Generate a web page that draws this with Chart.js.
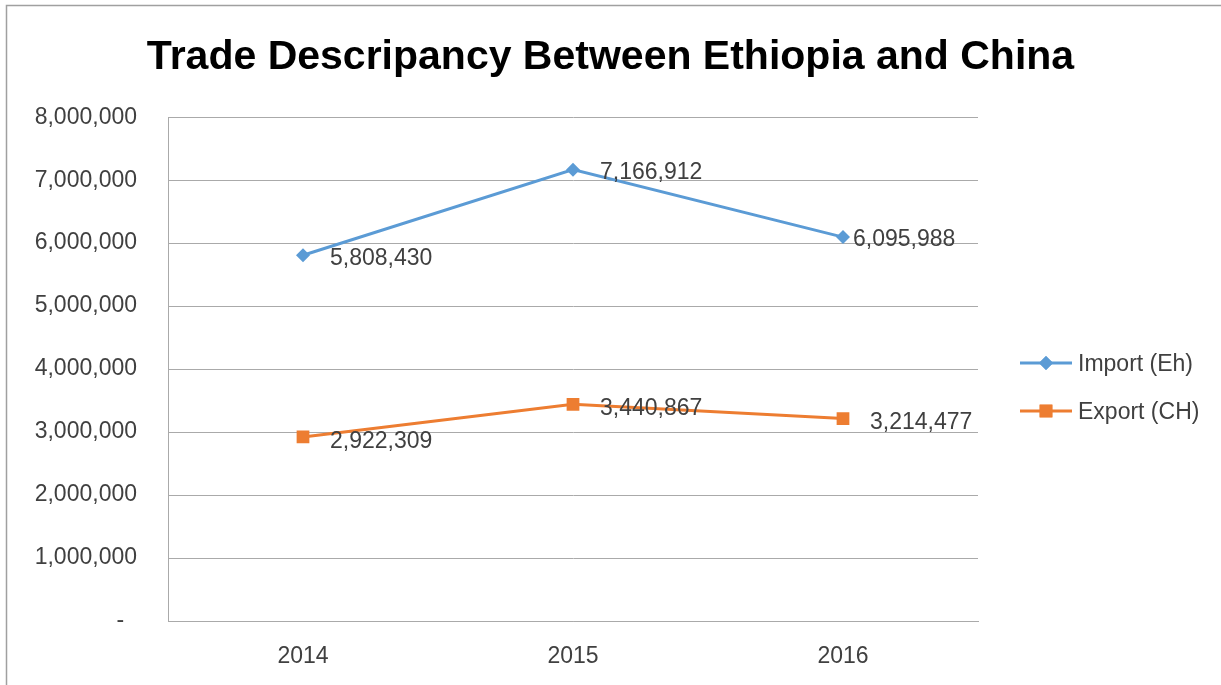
<!DOCTYPE html>
<html>
<head>
<meta charset="utf-8">
<script src="https://cdn.jsdelivr.net/npm/chart.js@4.4.1/dist/chart.umd.min.js"></script>
<style>
  body { margin: 0; background: #fff; }
  #wrap { width: 1221px; height: 685px; }
</style>
</head>
<body>
<div id="wrap"><canvas id="tradeChart" width="1221" height="685"></canvas></div>
<script>
const years = ['2014', '2015', '2016'];
const importEh = [5808430, 7166912, 6095988];
const exportCh = [2922309, 3440867, 3214477];
const seriesNames = ['Import (Eh)', 'Export (CH)'];
const yTicks = [0, 1000000, 2000000, 3000000, 4000000, 5000000, 6000000, 7000000, 8000000];

const FONT = '"Liberation Sans", Arial, sans-serif';
const textColor = '#404040';
const gridColor = '#aaaaaa';
const FS = 23;

function fmt(v) {
    return v.toLocaleString('en-US');
}

// label offsets beside each point (dx, dy), per dataset
const labelShift = [
    [[27, 3], [27, 3], [10, 3]],
    [[27, 5], [27, 4], [27, 4]]
];

const pointLabels = {
    id: 'pointLabels',
    afterDatasetsDraw(chart) {
        const ctx = chart.ctx;
        ctx.save();
        ctx.font = FS + 'px ' + FONT;
        ctx.fillStyle = textColor;
        ctx.textAlign = 'left';
        ctx.textBaseline = 'middle';
        chart.data.datasets.forEach((ds, i) => {
            chart.getDatasetMeta(i).data.forEach((pt, j) => {
                const s = labelShift[i][j];
                ctx.fillText(fmt(ds.data[j]), pt.x + s[0], pt.y + s[1]);
            });
        });
        ctx.restore();
    }
};

const sideLegend = {
    id: 'sideLegend',
    afterDraw(chart) {
        const ctx = chart.ctx;
        ctx.save();
        const x0 = 1020, rowY = [363, 411];
        chart.data.datasets.forEach((ds, i) => {
            const y = rowY[i];
            ctx.strokeStyle = ds.borderColor;
            ctx.lineWidth = 3;
            ctx.beginPath();
            ctx.moveTo(x0, y);
            ctx.lineTo(x0 + 52, y);
            ctx.stroke();
            ctx.fillStyle = ds.borderColor;
            Chart.helpers.drawPoint(ctx, { pointStyle: ds.pointStyle, radius: ds.pointRadius, borderWidth: 0 }, x0 + 26, y);
            ctx.fill();
            ctx.font = FS + 'px ' + FONT;
            ctx.fillStyle = textColor;
            ctx.textAlign = 'left';
            ctx.textBaseline = 'middle';
            ctx.fillText(ds.label, x0 + 58, y + 2);
        });
        ctx.restore();
    }
};

const frame = {
    id: 'frame',
    beforeDraw(chart) {
        const ctx = chart.ctx;
        ctx.save();
        ctx.fillStyle = '#fff';
        ctx.fillRect(0, 0, chart.width, chart.height);
        ctx.strokeStyle = '#a0a0a0';
        ctx.lineWidth = 1.5;
        ctx.beginPath();
        ctx.moveTo(1221, 5.5);
        ctx.lineTo(6.5, 5.5);
        ctx.lineTo(6.5, 685);
        ctx.stroke();
        ctx.restore();
    }
};

const ctx = document.getElementById('tradeChart').getContext('2d');
const chart = new Chart(ctx, {
    type: 'line',
    data: {
        labels: years,
        datasets: [{
            label: seriesNames[0],
            data: importEh,
            borderColor: '#5b9bd5',
            backgroundColor: '#5b9bd5',
            borderWidth: 3,
            pointStyle: 'rectRot',
            pointRadius: 7,
            pointBorderWidth: 0,
            tension: 0
        }, {
            label: seriesNames[1],
            data: exportCh,
            borderColor: '#ed7d31',
            backgroundColor: '#ed7d31',
            borderWidth: 3,
            pointStyle: 'rect',
            pointRadius: 9,
            pointBorderWidth: 0,
            tension: 0
        }]
    },
    options: {
        responsive: false,
        animation: false,
        devicePixelRatio: 1,
        layout: { padding: 0 },
        scales: {
            x: {
                offset: true,
                grid: { display: false, drawTicks: false },
                border: { display: true, color: gridColor, width: 1 },
                ticks: { color: textColor, font: { family: FONT, size: FS }, padding: 22 },
                afterFit(scale) { scale.height = 64; }
            },
            y: {
                min: 0,
                max: 8000000,
                afterBuildTicks(scale) { scale.ticks = yTicks.map(v => ({ value: v })); },
                grid: { color: gridColor, drawTicks: false, lineWidth: 1 },
                border: { display: true, color: gridColor, width: 1 },
                ticks: {
                    color: textColor,
                    font: { family: FONT, size: FS },
                    padding: 31,
                    callback: v => v === 0 ? '-  ' : fmt(v)
                },
                afterFit(scale) { scale.width = 168; }
            },
            // empty right-hand box that keeps room for the legend
            side: {
                type: 'linear',
                position: 'right',
                grid: { display: false },
                border: { display: false },
                ticks: { display: false },
                afterFit(scale) { scale.width = 243; }
            }
        },
        plugins: {
            legend: { display: false },
            tooltip: { enabled: false },
            title: {
                display: true,
                text: 'Trade Descripancy Between Ethiopia and China',
                color: '#000',
                font: { family: FONT, size: 41, weight: 'bold', lineHeight: 1.2 },
                padding: { top: 33, bottom: 35 }
            }
        }
    },
    plugins: [frame, pointLabels, sideLegend]
});
</script>
</body>
</html>
